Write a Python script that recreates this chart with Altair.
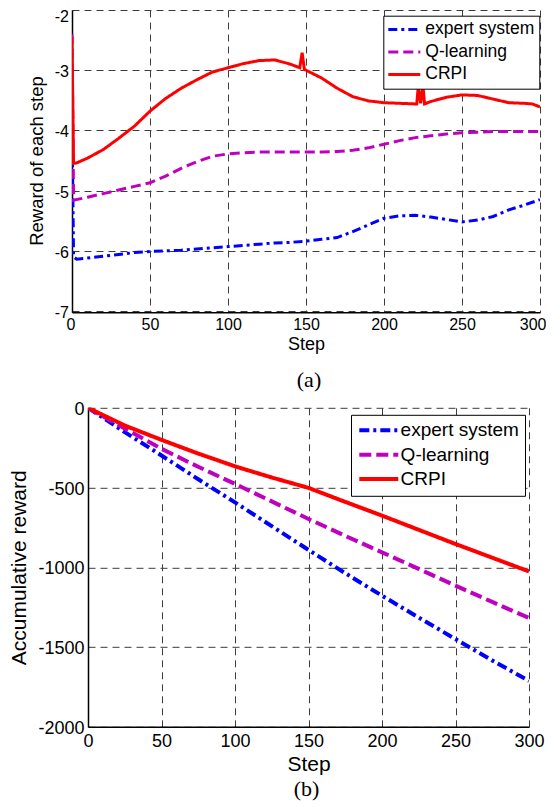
import altair as alt
import pandas as pd

methods = ["expert system", "Q-learning", "CRPI"]
colors = ["#0000FF", "#BF00BF", "#FF0000"]

# ---- panel (a): reward of each step ----
expert_steps = [0, 1, 3, 10, 20, 30, 40, 50, 60, 70, 80, 90, 100, 110, 120, 130, 140, 150,
                160, 170, 180, 190, 200, 210, 220, 230, 240, 250, 260, 270, 280, 290, 300]
expert_reward = [-3.8, -6.1, -6.14, -6.12, -6.09, -6.06, -6.03, -6.01, -6.0, -5.99, -5.97, -5.95,
                 -5.93, -5.91, -5.89, -5.87, -5.86, -5.84, -5.81, -5.78, -5.68, -5.57, -5.46,
                 -5.42, -5.41, -5.44, -5.48, -5.52, -5.49, -5.43, -5.32, -5.24, -5.15]

q_steps = [0, 1, 10, 20, 30, 40, 50, 60, 70, 80, 90, 100, 110, 120, 130, 140, 150, 160, 170,
           180, 190, 200, 210, 220, 230, 240, 250, 260, 270, 280, 290, 300]
q_reward = [-2.4, -5.16, -5.11, -5.05, -4.99, -4.93, -4.87, -4.76, -4.63, -4.52, -4.43, -4.39,
            -4.37, -4.36, -4.36, -4.36, -4.36, -4.36, -4.35, -4.33, -4.29, -4.23, -4.17, -4.12,
            -4.09, -4.06, -4.04, -4.03, -4.02, -4.02, -4.02, -4.02]

crpi_steps = [0, 1, 3, 10, 20, 30, 40, 50, 60, 70, 80, 90, 100, 110, 120, 130, 140, 146, 147.5,
              149, 150, 160, 170, 180, 190, 200, 210, 220, 221, 222, 223.5, 225, 226, 230, 240,
              250, 260, 270, 280, 290, 295, 300]
crpi_reward = [-2.45, -4.55, -4.54, -4.46, -4.32, -4.13, -3.93, -3.68, -3.47, -3.30, -3.16, -3.03,
               -2.96, -2.89, -2.84, -2.83, -2.90, -2.96, -2.71, -2.99, -3.0, -3.13, -3.30, -3.44,
               -3.51, -3.54, -3.55, -3.56, -3.56, -3.26, -3.55, -3.26, -3.56, -3.52, -3.45,
               -3.41, -3.42, -3.48, -3.54, -3.55, -3.56, -3.61]

# ---- panel (b): accumulative reward ----
acc_steps = [0, 25, 50, 75, 100, 125, 150, 175, 200, 225, 250, 275, 300]
acc_expert = [0, -153, -299, -448, -593, -742, -891, -1037, -1178, -1315, -1450, -1584, -1712]
acc_q = [0, -130, -257, -370, -477, -587, -697, -803, -906, -1010, -1115, -1217, -1318]
acc_crpi = [0, -111, -201, -287, -367, -437, -502, -590, -676, -765, -854, -940, -1026]

x_ticks = [0, 50, 100, 150, 200, 250, 300]
a_y_ticks = [-7, -6, -5, -4, -3, -2]
b_y_ticks = [-2000, -1500, -1000, -500, 0]


def long_frame(parts):
    rows = []
    for name, steps, vals in parts:
        for s, v in zip(steps, vals):
            rows.append({"step": s, "value": v, "method": name})
    return pd.DataFrame(rows)


df_a = long_frame([("expert system", expert_steps, expert_reward),
                   ("Q-learning", q_steps, q_reward),
                   ("CRPI", crpi_steps, crpi_reward)])
df_b = long_frame([("expert system", acc_steps, acc_expert),
                   ("Q-learning", acc_steps, acc_q),
                   ("CRPI", acc_steps, acc_crpi)])

FONT = "Liberation Sans"
SERIF = "Liberation Serif"
GRID = "#3c3c3c"


def axis(values, title, lab_fs, tit_fs, tx, ty, lab_pad, vertical, lab_off=0.0,
         flush=False, flush_off=0.0):
    kw = dict(values=values, title=title, labelFont=FONT, labelFontSize=lab_fs,
              labelColor="black", titleFont=FONT, titleFontSize=tit_fs,
              titleFontWeight="normal", titleColor="black", domainColor="black",
              domainWidth=1.5, ticks=False, grid=True, gridColor=GRID, gridDash=[7, 5],
              gridWidth=1, labelPadding=lab_pad, titleX=tx, titleY=ty,
              titleBaseline="alphabetic", titleAlign="center", labelOverlap=False,
              labelExpr="toString(datum.value)", labelFlush=flush,
              labelFlushOffset=flush_off)
    if vertical:
        kw.update(labelOffset=lab_off, titleAngle=270)
    return alt.Axis(**kw)


def legend(lx, ly, fs, path, pad, off, sw, size, row_pad):
    return alt.Legend(title=None, orient="none", legendX=lx, legendY=ly, fillColor="white",
                      strokeColor="black", padding=pad, symbolType=path,
                      symbolSize=size, symbolStrokeWidth=sw, labelFont=FONT,
                      labelFontSize=fs, labelColor="black", labelOffset=off,
                      rowPadding=row_pad, cornerRadius=0)


# panel (a)
WA, HA = 468, 302.2
leg_a = legend(311.3, 5.7, 17.5, "M-1.346,0H3.577", 5, 19.5, 3, 169, 3.5)
lines_a = alt.Chart(df_a).mark_line(strokeWidth=3, clip=True).encode(
    x=alt.X("step:Q", scale=alt.Scale(domain=[0, 300], nice=False),
            axis=axis(x_ticks, "Step", 16, 18, WA / 2, 37.4, 4.3, False,
                      flush=True, flush_off=6)),
    y=alt.Y("value:Q", scale=alt.Scale(domain=[-7.02, -2], nice=False, zero=False),
            axis=axis(a_y_ticks, "Reward of each step", 16, 18.5, -29.5, 150.5, 3.5,
                      True, 1.5, 0.5, 3.5)),
    color=alt.Color("method:N", scale=alt.Scale(domain=methods, range=colors), legend=leg_a),
    strokeDash=alt.StrokeDash("method:N", scale=alt.Scale(
        domain=methods, range=[[9, 4, 3, 4], [10, 5], [1, 0]]), legend=leg_a),
    order=alt.Order("step:Q"),
)
chart_a = lines_a.properties(
    width=WA, height=HA,
    title=alt.TitleParams("(a)", orient="bottom", font=SERIF, fontSize=22,
                          fontWeight="normal", color="black", frame="group",
                          anchor="middle", dx=3, offset=16))

# panel (b)
WB, HB = 441, 319
leg_b = legend(263, 7, 19, "M-1.03,0H4.54", 6, 24.6, 4, 196, 4.4)
lines_b = alt.Chart(df_b).mark_line(strokeWidth=4, clip=True).encode(
    x=alt.X("step:Q", scale=alt.Scale(domain=[0, 300], nice=False),
            axis=axis(x_ticks, "Step", 18, 21, WB / 2, 43.5, 5.7, False)),
    y=alt.Y("value:Q", scale=alt.Scale(domain=[-2000, 0], nice=False),
            axis=axis(b_y_ticks, "Accumulative reward", 18, 21, -62.5, HB / 2, 4, True, 1.5)),
    color=alt.Color("method:N", scale=alt.Scale(domain=methods, range=colors), legend=leg_b),
    strokeDash=alt.StrokeDash("method:N", scale=alt.Scale(
        domain=methods, range=[[10, 4, 3, 4], [12, 5], [1, 0]]), legend=leg_b),
    order=alt.Order("step:Q"),
)
chart_b = lines_b.properties(
    width=WB, height=HB,
    title=alt.TitleParams("(b)", orient="bottom", font=SERIF, fontSize=22,
                          fontWeight="normal", color="black", frame="group",
                          anchor="middle", dx=-2, offset=5))

# empty strip that shifts panel (b) to the right of panel (a)'s left edge
shift = alt.Chart(pd.DataFrame({"k": [0]})).mark_point(opacity=0).properties(
    width=15.5, height=10)

row_b = alt.hconcat(shift, chart_b, spacing=0, bounds="flush").resolve_scale(
    color="independent", strokeDash="independent")

chart = alt.vconcat(chart_a, row_b, spacing=94.8, bounds="flush").resolve_scale(
    color="independent", strokeDash="independent").resolve_legend(
    color="independent", strokeDash="independent").properties(
    padding={"left": 0, "top": 0, "right": 0, "bottom": 0}, background="white"
).configure_view(strokeWidth=0)

chart.save("out.html", embed_options={"renderer": "svg", "actions": False})
